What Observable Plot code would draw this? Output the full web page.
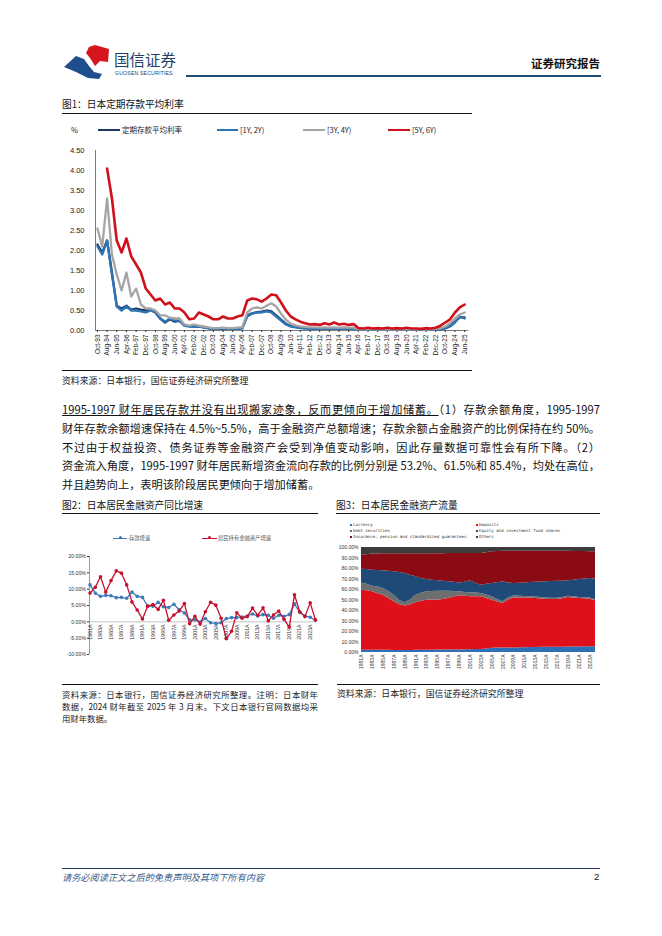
<!DOCTYPE html>
<html lang="zh-CN">
<head>
<meta charset="utf-8">
<script src="https://cdn.jsdelivr.net/npm/d3@7"></script>
<script src="https://cdn.jsdelivr.net/npm/@observablehq/plot@0.6"></script>
<style>
html,body{margin:0;padding:0;background:#fff;}
#page{position:relative;width:662px;height:936px;overflow:hidden;background:#fff;font-family:'Liberation Sans','Noto Sans CJK SC',sans-serif;color:#111;}
.a{position:absolute;white-space:nowrap;}
.rule{position:absolute;height:0;border-top:1.2px solid #111;}
.cjk{font-family:'Noto Sans CJK SC',sans-serif;}
.fig-title{position:absolute;font-size:9.7px;line-height:12px;white-space:nowrap;color:#111;font-family:'Noto Sans CJK SC',sans-serif;}
.src{position:absolute;font-size:8.9px;line-height:12px;white-space:nowrap;color:#222;font-family:'Noto Sans CJK SC',sans-serif;}
.para{position:absolute;left:62px;top:400px;width:538px;font-size:11.2px;line-height:18.8px;font-family:'Noto Sans CJK SC',sans-serif;color:#111;}
.j{text-align:justify;text-align-last:justify;}
.cap{position:absolute;left:62px;top:688px;width:256px;font-size:8.4px;line-height:12px;color:#222;font-family:'Noto Sans CJK SC',sans-serif;}
.leg{position:absolute;font-size:7.5px;line-height:10px;white-space:nowrap;color:#222;font-family:'Noto Sans CJK SC','Liberation Sans',sans-serif;}
.sw{position:absolute;height:0;}
.leg2{position:absolute;font-size:5.3px;line-height:7px;white-space:nowrap;color:#555;font-family:'Noto Sans CJK SC',sans-serif;}
.leg3{position:absolute;font-size:4.1px;line-height:6px;white-space:nowrap;color:#333;font-family:'DejaVu Sans Mono',monospace;}
.sq{display:inline-block;width:2.2px;height:2.2px;margin-right:0.8px;vertical-align:middle;}
</style>
</head>
<body>
<div id="page">
  <!-- header -->
  <svg class="a" style="left:62px;top:44px" width="50" height="36" viewBox="0 0 50 36">
    <path d="M27 3 L33 1 L47 5 L46 18 L38 17 L33 22 L28 14 L24 9 Z" fill="#d7151f"/>
    <path d="M2 23 L14 12 L22 15 L27 22 L32 28 L40 30 L37 35 L26 34 L14 28 Z" fill="#1f4e8c"/>
  </svg>
  <div class="a cjk" style="left:114px;top:50px;font-size:15.5px;line-height:18px;color:#243f6b;">国信证券</div>
  <div class="a" style="left:115px;top:70px;font-size:5.2px;line-height:6px;color:#243f6b;letter-spacing:0.15px;">GUOSEN SECURITIES</div>
  <div class="a" style="left:186px;top:75px;width:415px;height:2px;background:#1f4e79;"></div>
  <div class="a cjk" style="left:531px;top:56px;font-size:11.5px;line-height:14px;font-weight:bold;color:#111;">证券研究报告</div>

  <!-- figure 1 -->
  <div class="fig-title" style="left:62px;top:97.5px;">图1：日本定期存款平均利率</div>
  <div class="rule" style="left:62px;top:113px;width:410px;"></div>
  <div class="leg" style="left:71px;top:125px;">%</div>
  <div class="sw" style="left:98px;top:129px;width:22px;border-top:2px solid #1f3864;"></div>
  <div class="leg" style="left:122px;top:125px;">定期存款平均利率</div>
  <div class="sw" style="left:217px;top:129px;width:21px;border-top:2.5px solid #2e75b6;"></div>
  <div class="leg" style="left:240px;top:125px;">[1Y, 2Y)</div>
  <div class="sw" style="left:303px;top:129px;width:22px;border-top:2.5px solid #a5a5a5;"></div>
  <div class="leg" style="left:327px;top:125px;">[3Y, 4Y)</div>
  <div class="sw" style="left:388px;top:129px;width:22px;border-top:2.5px solid #d0101b;"></div>
  <div class="leg" style="left:412px;top:125px;">[5Y, 6Y)</div>
  <div id="chart1" class="a" style="left:62px;top:140px;"></div>
  <div class="rule" style="left:62px;top:370px;width:410px;"></div>
  <div class="src" style="left:62px;top:374.5px;">资料来源：日本银行，国信证券经济研究所整理</div>

  <!-- paragraph -->
  <div class="para">
    <div class="j"><span style="text-decoration:underline;">1995-1997 财年居民存款并没有出现搬家迹象，反而更倾向于增加储蓄。</span>（1）存款余额角度，1995-1997</div>
    <div class="j">财年存款余额增速保持在 4.5%~5.5%，高于金融资产总额增速；存款余额占金融资产的比例保持在约 50%。</div>
    <div class="j">不过由于权益投资、债务证券等金融资产会受到净值变动影响，因此存量数据可靠性会有所下降。（2）</div>
    <div class="j">资金流入角度，1995-1997 财年居民新增资金流向存款的比例分别是 53.2%、61.5%和 85.4%，均处在高位，</div>
    <div>并且趋势向上，表明该阶段居民更倾向于增加储蓄。</div>
  </div>

  <!-- figure 2 -->
  <div class="fig-title" style="left:62px;top:499px;">图2：日本居民金融资产同比增速</div>
  <div class="rule" style="left:62px;top:513px;width:256px;"></div>
  <div class="sw" style="left:113px;top:537.5px;width:14px;border-top:1.2px solid #3d7ab8;"></div>
  <div class="a" style="left:118.5px;top:536.2px;width:3px;height:3px;border-radius:50%;background:#3d7ab8;"></div>
  <div class="leg2" style="left:129px;top:534.5px;">存款增速</div>
  <div class="sw" style="left:202px;top:537.5px;width:15px;border-top:1.2px solid #c8102e;"></div>
  <div class="a" style="left:207.5px;top:536.2px;width:3px;height:3px;border-radius:50%;background:#c8102e;"></div>
  <div class="leg2" style="left:218px;top:534.5px;">居民持有金融资产增速</div>
  <div id="chart2" class="a" style="left:62px;top:545px;"></div>
  <div class="rule" style="left:62px;top:684px;width:256px;"></div>
  <div class="cap">
    <div class="j" style="white-space:nowrap;">资料来源：日本银行，国信证券经济研究所整理。注明：日本财年</div>
    <div class="j" style="white-space:nowrap;">数据，2024 财年截至 2025 年 3 月末。下文日本银行官网数据均采</div>
    <div>用财年数据。</div>
  </div>

  <!-- figure 3 -->
  <div class="fig-title" style="left:336px;top:499px;">图3：日本居民金融资产流量</div>
  <div class="rule" style="left:336px;top:513px;width:264px;"></div>
  <div id="legend3"></div>
  <div id="chart3" class="a" style="left:330px;top:542px;"></div>
  <div class="rule" style="left:337px;top:684px;width:263px;"></div>
  <div class="src" style="left:337px;top:688px;">资料来源：日本银行，国信证券经济研究所整理</div>

  <!-- footer -->
  <div class="a" style="left:62px;top:868px;width:538px;height:1.2px;background:#1f3864;"></div>
  <div class="a cjk" style="left:62px;top:871px;font-size:9.2px;line-height:12px;font-style:italic;color:#35598a;">请务必阅读正文之后的免责声明及其项下所有内容</div>
  <div class="a" style="left:594px;top:871px;font-size:9.5px;line-height:12px;color:#111;">2</div>
</div>

<script>
const FONT = "'Liberation Sans','Noto Sans CJK SC',sans-serif";

// ---------- Figure 1: 日本定期存款平均利率 (%), every 5 months from Oct-93 ----------
const rateStartYear = 1993, rateStartMonth = 9, rateStepMonths = 5;
const rateAverage = [
  2.15,1.95,2.25,1.45,0.62,0.55,0.62,0.52,0.55,0.52,
  0.50,0.52,0.45,0.30,0.20,0.28,0.22,0.24,0.13,0.11,
  0.10,0.10,0.08,0.06,0.05,0.05,0.05,0.05,0.05,0.05,
  0.07,0.38,0.43,0.46,0.47,0.50,0.48,0.38,0.27,0.17,
  0.11,0.09,0.07,0.06,0.05,0.05,0.05,0.05,0.05,0.05,
  0.05,0.05,0.05,0.05,0.02,0.02,0.02,0.02,0.02,0.02,
  0.02,0.02,0.02,0.02,0.02,0.02,0.02,0.02,0.02,0.02,
  0.02,0.04,0.06,0.12,0.22,0.33,0.33
];
const rate1to2y = [
  2.10,1.90,2.25,1.40,0.60,0.50,0.60,0.50,0.50,0.48,
  0.45,0.50,0.45,0.30,0.22,0.30,0.25,0.25,0.12,0.10,
  0.10,0.10,0.08,0.05,0.04,0.04,0.04,0.04,0.04,0.04,
  0.05,0.35,0.42,0.45,0.45,0.48,0.45,0.35,0.25,0.15,
  0.10,0.08,0.06,0.05,0.05,0.04,0.04,0.04,0.04,0.04,
  0.04,0.04,0.04,0.04,0.02,0.02,0.02,0.02,0.02,0.02,
  0.02,0.02,0.02,0.02,0.02,0.02,0.02,0.02,0.02,0.02,
  0.02,0.03,0.05,0.10,0.20,0.35,0.30
];
const rate3to4y = [
  2.55,2.10,3.30,1.90,1.40,1.00,1.45,0.85,1.05,0.65,
  0.55,0.55,0.50,0.38,0.38,0.32,0.30,0.30,0.15,0.12,
  0.15,0.12,0.10,0.08,0.06,0.06,0.07,0.06,0.06,0.07,
  0.08,0.45,0.55,0.58,0.55,0.62,0.68,0.60,0.42,0.27,
  0.17,0.13,0.10,0.09,0.08,0.08,0.07,0.08,0.07,0.08,
  0.07,0.08,0.07,0.07,0.03,0.03,0.03,0.03,0.03,0.03,
  0.03,0.03,0.03,0.03,0.03,0.03,0.03,0.03,0.03,0.03,
  0.04,0.06,0.10,0.18,0.30,0.40,0.45
];
const rate5to6y = [
  null,null,4.05,3.30,2.25,1.95,2.30,1.85,1.65,1.45,
  1.05,0.90,0.75,0.80,0.65,0.70,0.55,0.55,0.45,0.28,
  0.30,0.45,0.40,0.35,0.28,0.28,0.35,0.30,0.30,0.35,
  0.38,0.75,0.80,0.78,0.72,0.80,0.90,0.88,0.70,0.50,
  0.35,0.28,0.22,0.18,0.15,0.16,0.14,0.18,0.15,0.20,
  0.15,0.17,0.14,0.16,0.06,0.05,0.07,0.05,0.06,0.05,
  0.07,0.05,0.06,0.05,0.07,0.05,0.05,0.04,0.06,0.05,
  0.07,0.12,0.20,0.28,0.45,0.58,0.65
];
const rateSeriesNames = ["定期存款平均利率", "[1Y, 2Y)", "[3Y, 4Y)", "[5Y, 6Y)"];
const rateColors = ["#1f3864", "#2e75b6", "#a5a5a5", "#d0101b"];
const rateTickLabels = ["Oct-93","Aug-94","Jun-95","Apr-96","Feb-97","Dec-97","Oct-98","Aug-99","Jun-00","Apr-01",
  "Feb-02","Dec-02","Oct-03","Aug-04","Jun-05","Apr-06","Feb-07","Dec-07","Oct-08","Aug-09",
  "Jun-10","Apr-11","Feb-12","Dec-12","Oct-13","Aug-14","Jun-15","Apr-16","Feb-17","Dec-17",
  "Oct-18","Aug-19","Jun-20","Apr-21","Feb-22","Dec-22","Oct-23","Aug-24","Jun-25"];
const rateYTicks = [0, 0.5, 1, 1.5, 2, 2.5, 3, 3.5, 4, 4.5];

const rateStart = new Date(Date.UTC(rateStartYear, rateStartMonth, 1));
const rateDates = rateAverage.map((_, i) => d3.utcMonth.offset(rateStart, i * rateStepMonths));
const rateValues = [rateAverage, rate1to2y, rate3to4y, rate5to6y];
const rateRows = rateValues.map((vals, s) => vals.map((v, i) => ({date: rateDates[i], value: v, series: rateSeriesNames[s]})));
const xStart1 = new Date(Date.UTC(1993, 7, 1));
const xEnd1 = new Date(Date.UTC(2025, 9, 1));
const parseTick = d3.utcParse("%b-%y");

const chart1 = Plot.plot({
  width: 410, height: 232,
  marginTop: 10, marginRight: 4, marginBottom: 42, marginLeft: 33,
  style: {fontFamily: FONT, fontSize: "7.5px", color: "#222", background: "transparent", overflow: "visible"},
  x: {type: "utc", domain: [xStart1, xEnd1]},
  y: {domain: [0, 4.5]},
  marks: [
    Plot.axisY(rateYTicks, {tickSize: 0, tickPadding: 11, tickFormat: d3.format(".2f"), fontSize: 7.5, label: null}),
    Plot.axisX(rateTickLabels.map(parseTick), {tickSize: 2, tickPadding: 2, tickRotate: -90, tickFormat: d3.utcFormat("%b-%y"), fontSize: 6.5, label: null}),
    Plot.ruleX([xStart1], {stroke: "#444", strokeWidth: 0.7}),
    Plot.ruleY([0], {stroke: "#444", strokeWidth: 0.7}),
    ...rateRows.map((rows, s) => Plot.line(rows, {x: "date", y: "value", stroke: rateColors[s], strokeWidth: s === 3 ? 2.6 : 2.3, strokeLinejoin: "round"}))
  ]
});
document.getElementById("chart1").append(chart1);

// ---------- Figure 2: 日本居民金融资产同比增速 (%) ----------
const growthYears = [1981,1982,1983,1984,1985,1986,1987,1988,1989,1990,
  1991,1992,1993,1994,1995,1996,1997,1998,1999,2000,
  2001,2002,2003,2004,2005,2006,2007,2008,2009,2010,
  2011,2012,2013,2014,2015,2016,2017,2018,2019,2020,
  2021,2022,2023,2024];
const depositGrowth = [11.3,8.8,7.8,8.1,8.0,7.4,7.5,7.2,9.1,7.8,
  7.5,4.8,4.8,6.0,4.6,4.4,5.4,3.7,2.7,0.6,
  0.6,-0.1,1.0,-0.3,-0.5,-0.3,1.0,1.3,1.3,1.5,
  1.8,2.4,1.8,2.2,2.0,1.1,2.0,1.7,2.2,5.5,
  2.9,1.8,1.4,0.5];
const assetGrowth = [8.8,10.6,13.8,9.1,12.6,15.6,14.9,11.3,6.1,3.6,
  0.9,4.8,5.3,3.8,6.6,0.5,2.1,3.3,5.6,-0.6,
  1.7,-0.7,3.1,6.0,5.1,1.1,-5.2,-2.9,2.8,1.1,
  1.6,4.2,2.0,4.3,0.3,2.1,3.3,0.8,-1.6,8.3,
  3.1,1.6,5.8,0.6];
const growthTickYears = [1981,1983,1985,1987,1989,1991,1993,1995,1997,1999,2001,2003,2005,2007,2009,2011,2013,2015,2017,2019,2021,2023];
const growthYTicks = [-10,-5,0,5,10,15,20];
const depColor = "#3d7ab8", assetColor = "#c8102e";
const depRows = growthYears.map((y, i) => ({year: y, value: depositGrowth[i]}));
const assetRows = growthYears.map((y, i) => ({year: y, value: assetGrowth[i]}));
const x2Start = 1980.9;

const chart2 = Plot.plot({
  width: 258, height: 112,
  marginTop: 11, marginRight: 4, marginBottom: 3, marginLeft: 27,
  style: {fontFamily: FONT, fontSize: "5.2px", color: "#333", background: "transparent", overflow: "visible"},
  x: {domain: [x2Start, 2024.2], axis: null},
  y: {domain: [-10, 20]},
  marks: [
    Plot.axisY(growthYTicks, {tickSize: 2, tickPadding: 1.5, tickFormat: d => d.toFixed(2) + "%", fontSize: 5.2, label: null}),
    Plot.ruleX([x2Start], {stroke: "#555", strokeWidth: 0.6}),
    Plot.ruleY([0], {stroke: "#999", strokeWidth: 0.6}),
    Plot.text(growthTickYears, {x: d => d, y: 0, text: d => d + "A", rotate: -90, textAnchor: "end", dy: 2.5, fontSize: 5.3, fill: "#333"}),
    Plot.line(depRows, {x: "year", y: "value", stroke: depColor, strokeWidth: 1.3}),
    Plot.dot(depRows, {x: "year", y: "value", fill: depColor, r: 1.8}),
    Plot.line(assetRows, {x: "year", y: "value", stroke: assetColor, strokeWidth: 1.3}),
    Plot.dot(assetRows, {x: "year", y: "value", fill: assetColor, r: 1.8})
  ]
});
document.getElementById("chart2").append(chart2);

// ---------- Figure 3: 日本居民金融资产流量 (share, %) ----------
const flowYears = growthYears;
const flowSeries = ["Currency", "Deposits", "Debt securities", "Equity and investment fund shares", "Insurance, pension and standardized guarantees", "Others"];
const flowColors = ["#2e6fb5", "#e0101b", "#6e6e6e", "#1f4a78", "#8a0b14", "#3c3c3c"];
const currencyShare = [2.2,2.2,2.2,2.2,2.1,2.1,2.0,2.0,2.0,2.0, 2.1,2.1,2.2,2.2,2.3,2.3,2.4,2.4,2.5,2.6,
  2.7,2.8,2.9,3.3,4.0,4.2,4.2,4.3,4.4,4.5, 4.6,4.7,4.8,4.9,5.0,5.0,5.1,5.1,5.2,5.3, 5.3,5.4,5.4,5.4];
const depositShare = [57.2,56.6,55.6,53.8,52.5,49.4,46.3,43.5,42.4,43.5, 45.2,46.7,47.6,47.7,47.5,48.2,49.0,50.4,51.5,50.9,
  50.3,50.4,50.1,48.2,45.8,43.8,42.5,45.7,47.6,47.5, 47.4,47.1,46.6,46.1,45.5,45.4,45.4,46.1,47.2,46.7, 46.1,45.8,45.4,43.8];
const debtShare = [6.9,6.2,5.4,6.3,6.4,6.5,6.3,4.0,3.0,4.5, 7.3,7.7,8.0,8.3,8.6,7.9,7.0,5.2,3.8,3.7,
  3.8,3.4,3.2,3.3,3.2,2.5,1.6,1.8,2.0,1.6, 1.4,1.4,1.4,1.4,1.4,1.3,1.2,1.1,1.1,1.0, 1.0,1.0,1.0,1.0];
const equityShare = [13.1,14.0,15.2,15.9,16.8,19.3,22.2,26.7,27.8,23.5, 17.5,14.0,11.7,10.6,9.9,9.4,8.9,8.8,8.5,9.8,
  11.5,9.4,7.9,10.2,12.7,16.0,19.0,14.4,11.7,12.4, 12.9,13.5,14.2,14.8,15.4,15.9,16.2,15.6,14.8,15.8, 17.1,17.8,18.7,19.6];
const insuranceShare = [13.3,14.2,15.3,15.7,16.2,16.7,17.2,17.8,18.8,20.5, 21.9,23.5,24.5,25.3,25.8,26.3,26.9,27.4,27.9,27.3,
  26.0,28.3,30.2,30.0,30.2,29.8,29.2,30.3,30.8,30.5, 30.2,29.8,29.5,29.3,29.2,28.9,28.6,28.6,28.1,27.5, 26.7,26.1,25.5,26.1];
const othersShare = [7.3,6.8,6.3,6.1,6.0,6.0,6.0,6.0,6.0,6.0, 6.0,6.0,6.0,5.9,5.9,5.9,5.8,5.8,5.8,5.7,
  5.7,5.7,5.7,5.0,4.1,3.7,3.5,3.5,3.5,3.5, 3.5,3.5,3.5,3.5,3.5,3.5,3.5,3.5,3.6,3.7, 3.8,3.9,4.0,4.1];
const flowTickYears = growthTickYears;
const flowYTicks = [0,10,20,30,40,50,60,70,80,90,100];
const flowValues = [currencyShare, depositShare, debtShare, equityShare, insuranceShare, othersShare];
const flowRows = [];
flowValues.forEach((vals, s) => vals.forEach((v, i) => flowRows.push({year: flowYears[i], value: v, series: flowSeries[s]})));

const chart3 = Plot.plot({
  width: 270, height: 134,
  marginTop: 5, marginRight: 5, marginBottom: 24, marginLeft: 31,
  style: {fontFamily: FONT, fontSize: "5px", color: "#333", background: "transparent", overflow: "visible"},
  x: {domain: [1981, 2024]},
  y: {domain: [0, 100]},
  color: {domain: flowSeries, range: flowColors},
  marks: [
    Plot.areaY(flowRows, {x: "year", y: "value", z: "series", fill: "series", curve: "linear"}),
    Plot.axisY(flowYTicks, {tickSize: 0, tickPadding: 3, tickFormat: d => d.toFixed(2) + "%", fontSize: 5, label: null}),
    Plot.axisX(flowTickYears, {tickSize: 0, tickPadding: 2, tickRotate: -90, tickFormat: d => d + "A", fontSize: 5, label: null})
  ]
});
document.getElementById("chart3").append(chart3);

// legend for figure 3
const leg3 = document.getElementById("legend3");
const legPos = [[350,522],[476,522],[350,528],[476,528],[350,534],[476,534]];
flowSeries.forEach((name, k) => {
  const d = document.createElement("div");
  d.className = "leg3";
  d.style.left = legPos[k][0] + "px";
  d.style.top = legPos[k][1] + "px";
  d.innerHTML = `<span class="sq" style="background:${flowColors[k]}"></span>${name}`;
  leg3.append(d);
});
</script>
</body>
</html>
